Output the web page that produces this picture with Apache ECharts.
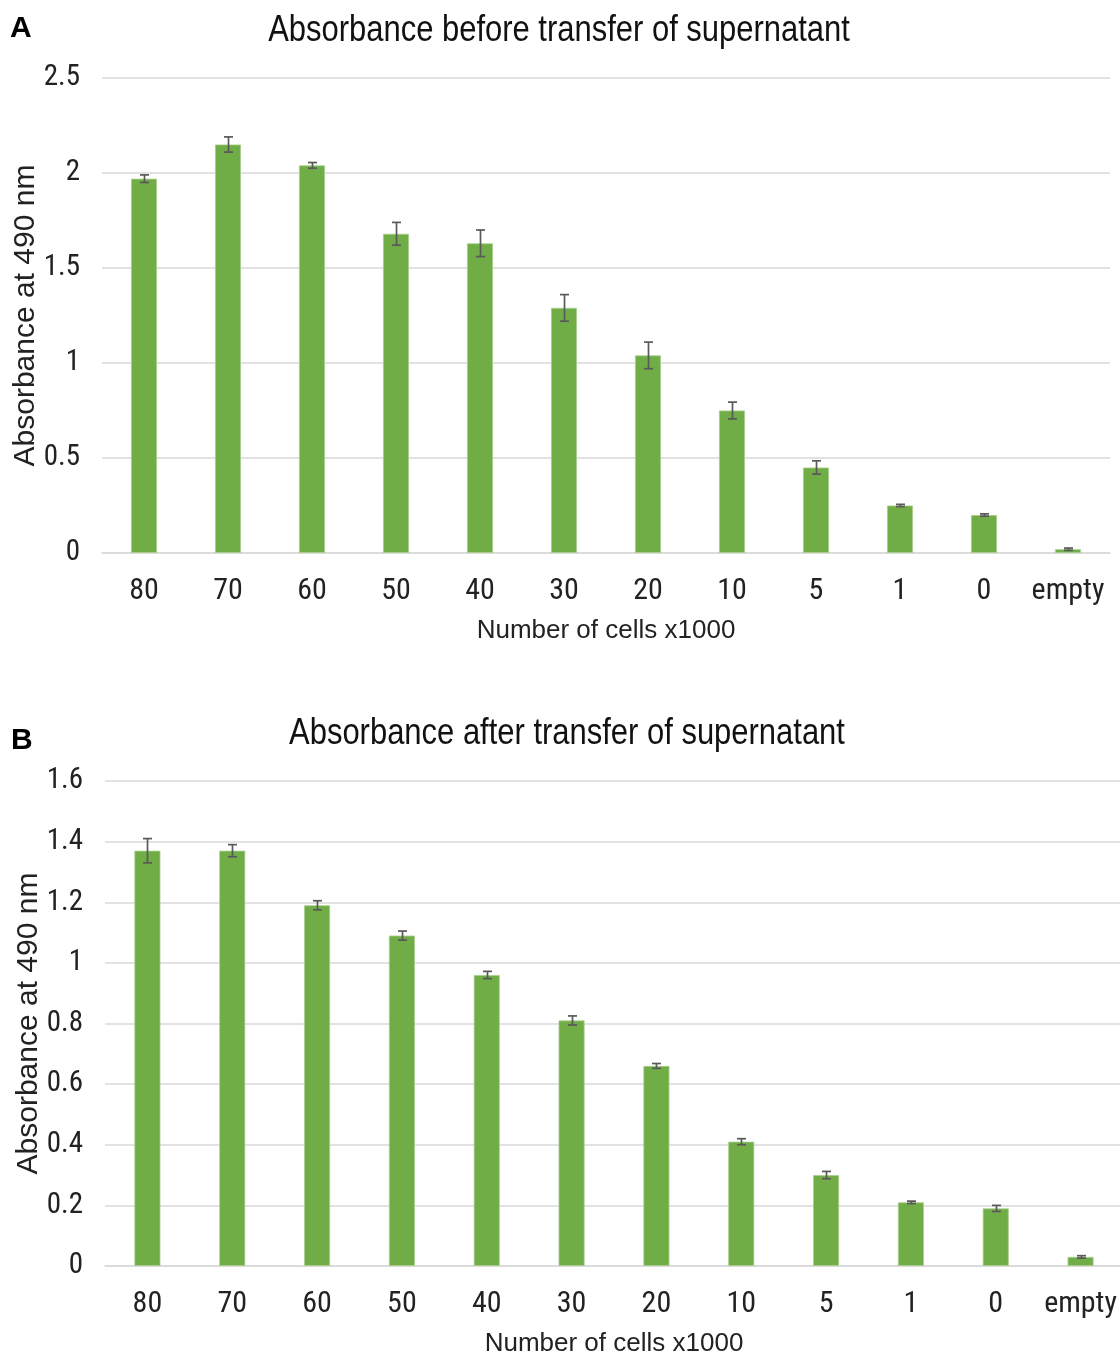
<!DOCTYPE html>
<html>
<head>
<meta charset="utf-8">
<script src="https://cdn.jsdelivr.net/npm/echarts@6/dist/echarts.min.js"></script>
<style>
  html, body { margin: 0; padding: 0; background: #fff; }
  #chart { width: 1120px; height: 1358px; }
</style>
</head>
<body>
<div id="chart"></div>
<script>
// Cell counts (x1000) per well, plus an empty well
const categories = ['80', '70', '60', '50', '40', '30', '20', '10', '5', '1', '0', 'empty'];

// Panel A: absorbance at 490 nm before supernatant transfer (mean, error)
const beforeMean = [1.97, 2.15, 2.04, 1.68, 1.63, 1.29, 1.04, 0.75, 0.45, 0.25, 0.20, 0.02];
const beforeErr  = [0.02, 0.04, 0.015, 0.06, 0.07, 0.07, 0.07, 0.044, 0.035, 0.006, 0.006, 0.006];

// Panel B: absorbance at 490 nm after supernatant transfer (mean, error)
const afterMean = [1.37, 1.37, 1.19, 1.09, 0.96, 0.81, 0.66, 0.41, 0.30, 0.21, 0.19, 0.03];
const afterErr  = [0.04, 0.02, 0.015, 0.015, 0.012, 0.015, 0.008, 0.01, 0.012, 0.004, 0.01, 0.004];

// Axis ticks
const yTicksA = { min: 0, max: 2.5, interval: 0.5 };
const yTicksB = { min: 0, max: 1.6, interval: 0.2 };

// Pick a condensed face when one is installed; otherwise use the regular one
function hasFont(name) {
  const c = document.createElement('canvas').getContext('2d');
  const probe = 'Absorbance 0123456789';
  c.font = '40px monospace';
  const a = c.measureText(probe).width;
  c.font = "40px '" + name + "', monospace";
  const b = c.measureText(probe).width;
  return Math.abs(a - b) > 0.5;
}
const narrowFace = ['Liberation Sans Narrow', 'Arial Narrow', 'Roboto Condensed', 'Open Sans Condensed']
  .find(hasFont);
const REGULAR = "'Liberation Sans', Arial, sans-serif";
const NARROW = narrowFace ? "'" + narrowFace + "', " + REGULAR : REGULAR;
const tickSize = narrowFace ? 29 : 27;
const catSize = narrowFace ? 30 : 27;

const BAR = '#70AD47';
const GRID_LINE = '#D9D9D9';
const ERR = '#595959';
const TEXT = '#222';

function errorSeries(mean, err, xi, yi) {
  return {
    type: 'custom',
    xAxisIndex: xi,
    yAxisIndex: yi,
    z: 10,
    data: mean.map((m, i) => [i, m - err[i], m + err[i]]),
    renderItem: function (params, api) {
      const lo = api.coord([api.value(0), api.value(1)]);
      const hi = api.coord([api.value(0), api.value(2)]);
      const x = Math.round(lo[0]) + 0.5;
      const cap = 4.5;
      const style = { stroke: ERR, lineWidth: 1.7 };
      return {
        type: 'group',
        children: [
          { type: 'line', shape: { x1: x, y1: lo[1], x2: x, y2: hi[1] }, style: style },
          { type: 'line', shape: { x1: x - cap, y1: hi[1], x2: x + cap, y2: hi[1] }, style: style },
          { type: 'line', shape: { x1: x - cap, y1: lo[1], x2: x + cap, y2: lo[1] }, style: style }
        ]
      };
    }
  };
}

function xAxis(gridIndex) {
  return {
    type: 'category',
    gridIndex: gridIndex,
    data: categories,
    axisLine: { lineStyle: { color: GRID_LINE, width: 1.5 } },
    axisTick: { show: false },
    axisLabel: { interval: 0, color: TEXT, fontFamily: NARROW, fontSize: catSize, margin: 23 },
    name: 'Number of cells x1000',
    nameLocation: 'middle',
    nameGap: 65,
    nameMoveOverlap: false,
    nameTextStyle: { color: TEXT, fontFamily: REGULAR, fontSize: 26 }
  };
}

function yAxis(gridIndex, ticks) {
  return {
    type: 'value',
    gridIndex: gridIndex,
    min: ticks.min,
    max: ticks.max,
    interval: ticks.interval,
    axisLine: { show: false },
    axisTick: { show: false },
    splitLine: { lineStyle: { color: GRID_LINE, width: 1.5 } },
    axisLabel: { color: TEXT, fontFamily: NARROW, fontSize: tickSize, margin: 22 },
    name: 'Absorbance at 490 nm',
    nameLocation: 'middle',
    nameGap: 61,
    nameMoveOverlap: false,
    nameTextStyle: { color: TEXT, fontFamily: REGULAR, fontSize: 30 }
  };
}

// Panel titles: regular face, horizontally condensed
function titleText(text, x, y) {
  return {
    type: 'text', x: x, y: y, scaleX: 0.86, originX: 0, originY: 0,
    style: {
      text: text, align: 'center', verticalAlign: 'middle',
      textAlign: 'center', textVerticalAlign: 'middle',
      font: '36px ' + REGULAR, fill: '#111'
    }
  };
}

const chart = echarts.init(document.getElementById('chart'), null, { renderer: 'canvas' });

chart.setOption({
  animation: false,
  backgroundColor: '#fff',
  graphic: [
    titleText('Absorbance before transfer of supernatant', 559, 31),
    titleText('Absorbance after transfer of supernatant', 567, 734),
    { type: 'text', left: 10, top: 14, style: { text: 'A', font: "bold 30px 'Liberation Sans', Arial, sans-serif", fill: '#000' } },
    { type: 'text', left: 11, top: 726, style: { text: 'B', font: "bold 30px 'Liberation Sans', Arial, sans-serif", fill: '#000' } }
  ],
  grid: [
    { left: 102, top: 78, width: 1008, height: 475, containLabel: false, outerBoundsMode: 'none' },
    { left: 105, top: 781, width: 1018, height: 485, containLabel: false, outerBoundsMode: 'none' }
  ],
  xAxis: [xAxis(0), xAxis(1)],
  yAxis: [yAxis(0, yTicksA), yAxis(1, yTicksB)],
  series: [
    {
      type: 'bar', xAxisIndex: 0, yAxisIndex: 0, data: beforeMean, barWidth: 26,
      itemStyle: { color: BAR, borderColor: '#A9CF8E', borderWidth: 0.8 }
    },
    errorSeries(beforeMean, beforeErr, 0, 0),
    {
      type: 'bar', xAxisIndex: 1, yAxisIndex: 1, data: afterMean, barWidth: 26,
      itemStyle: { color: BAR, borderColor: '#A9CF8E', borderWidth: 0.8 }
    },
    errorSeries(afterMean, afterErr, 1, 1)
  ]
});
</script>
</body>
</html>
